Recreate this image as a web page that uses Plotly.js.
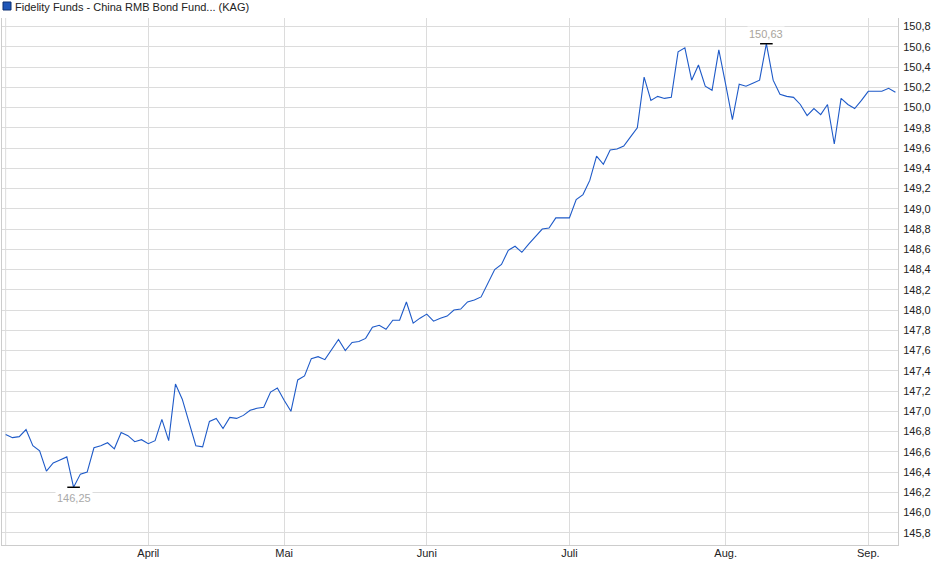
<!DOCTYPE html>
<html>
<head>
<meta charset="utf-8">
<script src="https://cdn.plot.ly/plotly-3.0.1.min.js"></script>
<style>
  html, body { margin: 0; padding: 0; background: #fff; }
  #chart { width: 940px; height: 579px; }
</style>
</head>
<body>
<div id="chart"></div>
<script>
const fundName = 'Fidelity Funds - China RMB Bond Fund... (KAG)';

// Kurse je Handelstag (Index = Handelstag)
const prices = [
  146.77, 146.74, 146.75, 146.82, 146.66, 146.61, 146.41, 146.49, 146.52, 146.55,
  146.25, 146.38, 146.40, 146.64, 146.66, 146.69, 146.63, 146.79, 146.76, 146.70,
  146.72, 146.68, 146.71, 146.92, 146.71, 147.27, 147.12, 146.90, 146.66, 146.65,
  146.90, 146.93, 146.83, 146.94, 146.93, 146.96, 147.01, 147.03, 147.04, 147.19,
  147.23, 147.11, 147.00, 147.31, 147.35, 147.52, 147.54, 147.51, 147.61, 147.71,
  147.60, 147.68, 147.69, 147.72, 147.83, 147.85, 147.81, 147.90, 147.90, 148.08,
  147.87, 147.92, 147.96, 147.89, 147.92, 147.94, 148.00, 148.01, 148.08, 148.10,
  148.13, 148.27, 148.40, 148.45, 148.59, 148.63, 148.57, 148.65, 148.72, 148.80,
  148.81, 148.91, 148.91, 148.91, 149.09, 149.14, 149.28, 149.52, 149.44, 149.58,
  149.59, 149.62, 149.71, 149.80, 150.30, 150.07, 150.11, 150.09, 150.10, 150.55,
  150.59, 150.27, 150.42, 150.21, 150.17, 150.57, 150.23, 149.88, 150.23, 150.21,
  150.24, 150.27, 150.63, 150.27, 150.13, 150.11, 150.10, 150.03, 149.92, 149.99,
  149.93, 150.03, 149.64, 150.09, 150.03, 149.99, 150.07, 150.16, 150.16, 150.16,
  150.19, 150.15
];

const monthLabels = ['April', 'Mai', 'Juni', 'Juli', 'Aug.', 'Sep.'];
const monthStarts = [21, 41, 62, 83, 106, 127];
const priceTicks = [145.8, 146.0, 146.2, 146.4, 146.6, 146.8, 147.0, 147.2, 147.4, 147.6,
                    147.8, 148.0, 148.2, 148.4, 148.6, 148.8, 149.0, 149.2, 149.4, 149.6,
                    149.8, 150.0, 150.2, 150.4, 150.6, 150.8];

const days = prices.map((_, i) => i);
const maxIdx = prices.indexOf(Math.max(...prices));
const minIdx = prices.indexOf(Math.min(...prices));
const fmt = v => v.toFixed(2).replace('.', ',');

const data = [
  {
    x: days,
    y: prices,
    type: 'scatter',
    mode: 'lines',
    line: { color: '#1e5ac8', width: 1.1 },
    hoverinfo: 'skip'
  },
  {
    // Hoch/Tief-Markierung
    x: [maxIdx, minIdx],
    y: [prices[maxIdx], prices[minIdx]],
    type: 'scatter',
    mode: 'markers',
    marker: { symbol: 'line-ew', size: 9, color: '#000', line: { color: '#000', width: 1.5 } },
    hoverinfo: 'skip'
  }
];

const gridColor = '#dcdcdc';

const layout = {
  width: 940,
  height: 579,
  margin: { l: 2, r: 42, t: 18, b: 34 },
  paper_bgcolor: '#fff',
  plot_bgcolor: '#fff',
  separators: ',.',
  showlegend: false,
  font: { family: 'Liberation Sans, Arial, sans-serif', size: 11, color: '#222' },
  title: {
    text: fundName,
    xref: 'container', yref: 'container',
    x: 15 / 940, xanchor: 'left',
    y: 1 - 7 / 579, yanchor: 'middle',
    font: { size: 11, color: '#222' }
  },
  xaxis: {
    range: [-0.54, 131.38],
    tickvals: monthStarts,
    ticktext: monthLabels,
    showgrid: true,
    gridcolor: gridColor,
    zeroline: false,
    showline: true,
    linecolor: '#cccccc',
    ticks: '',
    ticklabelstandoff: -2,
    fixedrange: true
  },
  yaxis: {
    side: 'right',
    range: [145.68, 150.884],
    tickvals: priceTicks,
    tickformat: '.1f',
    showgrid: true,
    gridcolor: gridColor,
    zeroline: false,
    showline: true,
    mirror: true,
    linecolor: '#cccccc',
    ticks: '',
    ticklabelstandoff: 2,
    fixedrange: true
  },
  shapes: [
    {
      type: 'line', xref: 'x', yref: 'paper',
      x0: 0, x1: 0, y0: 0, y1: 1,
      line: { color: gridColor, width: 1 }, layer: 'below'
    },
    {
      type: 'rect', xref: 'paper', yref: 'paper',
      xsizemode: 'pixel', ysizemode: 'pixel',
      xanchor: 0, yanchor: 1,
      x0: 1, x1: 9, y0: 8, y1: 16,
      fillcolor: '#1f56b8',
      line: { color: '#0d2f70', width: 1 }
    }
  ],
  annotations: [
    {
      x: maxIdx, y: prices[maxIdx],
      text: fmt(prices[maxIdx]),
      showarrow: false,
      yanchor: 'bottom', yshift: 2,
      bgcolor: '#fff',
      font: { size: 11, color: '#a9a49c' }
    },
    {
      x: minIdx, y: prices[minIdx],
      text: fmt(prices[minIdx]),
      showarrow: false,
      yanchor: 'top', yshift: -3,
      bgcolor: '#fff',
      font: { size: 11, color: '#a9a9a9' }
    }
  ]
};

Plotly.newPlot('chart', data, layout, { staticPlot: true, displayModeBar: false });
</script>
</body>
</html>
